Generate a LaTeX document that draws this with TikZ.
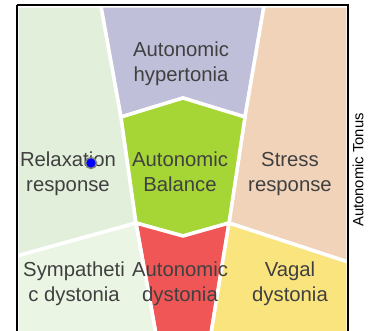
\documentclass[tikz,border=0pt]{standalone}
\usepackage{fontspec}
\setmainfont{Liberation Sans}
\definecolor{gUL}{HTML}{E2EFDA}
\definecolor{gLL}{HTML}{EBF5E4}
\definecolor{purp}{HTML}{BFBFD9}
\definecolor{peach}{HTML}{F0D3B9}
\definecolor{lime}{HTML}{A6D636}
\definecolor{redc}{HTML}{F05656}
\definecolor{yel}{HTML}{FAE47E}
\definecolor{txt}{HTML}{404040}
\begin{document}
\begin{tikzpicture}[x=1pt,y=-1pt,
  region/.style={draw=white,line width=3.5pt},
  lbl/.style={font=\fontsize{20.3}{24.5}\selectfont, text=txt, align=center, inner sep=0pt, anchor=base},
  frame/.style={draw=black,line width=2pt}]
\useasboundingbox (0,0) rectangle (376,331);
\coordinate (TL) at (17,6);
\coordinate (P1) at (101,6);
\coordinate (P2) at (264,6);
\coordinate (TR) at (348,6);
\coordinate (Q1) at (121,117);
\coordinate (T) at (183,98);
\coordinate (Q2) at (245,117);
\coordinate (R1) at (136,223);
\coordinate (B) at (183,236);
\coordinate (R2) at (229,223);
\coordinate (S1) at (157,340);
\coordinate (S2) at (210,340);
\coordinate (L) at (17,256);
\coordinate (Rr) at (348,262);
\coordinate (BL) at (17,340);
\coordinate (BR) at (348,340);
\begin{scope}
\clip (17,6) rectangle (348,340);
\fill[white] (17,6) rectangle (348,340);
\path[region,fill=gUL] (TL) -- (P1) -- (Q1) -- (R1) -- (L) -- cycle;
\path[region,fill=purp] (P1) -- (P2) -- (Q2) -- (T) -- (Q1) -- cycle;
\path[region,fill=peach] (P2) -- (TR) -- (Rr) -- (R2) -- (Q2) -- cycle;
\path[region,fill=lime] (T) -- (Q2) -- (R2) -- (B) -- (R1) -- (Q1) -- cycle;
\path[region,fill=redc] (R1) -- (B) -- (R2) -- (S2) -- (S1) -- cycle;
\path[region,fill=gLL] (L) -- (R1) -- (S1) -- (BL) -- cycle;
\path[region,fill=yel] (R2) -- (Rr) -- (BR) -- (S2) -- cycle;
\end{scope}
\draw[frame] (17,5.5) -- (348,5.5) -- (348,345);
\draw[frame] (17,5.5) -- (17,345);
\node[lbl] (hyp) at (181,81.5) {Autonomic\\hypertonia};
\node[lbl] (relax) at (68,191.5) {Relaxation\\response};
\node[circle,fill=blue,draw=gray,line width=1.5pt,minimum size=11pt,inner sep=0pt] (dot) at (91,163) {};
\node[lbl] (bal) at (180,191.5) {Autonomic\\Balance};
\node[lbl] (stress) at (290,191.5) {Stress\\response};
\node[lbl] (symp) at (74,301.5) {Sympatheti\\c dystonia};
\node[lbl] (adyst) at (180,301.5) {Autonomic\\dystonia};
\node[lbl] (vagal) at (290,301.5) {Vagal\\dystonia};
\node[font=\fontsize{14.8}{16}\selectfont, rotate=90, inner sep=0pt] (tonus) at (358,170) {Autonomic Tonus};
\end{tikzpicture}
\end{document}
